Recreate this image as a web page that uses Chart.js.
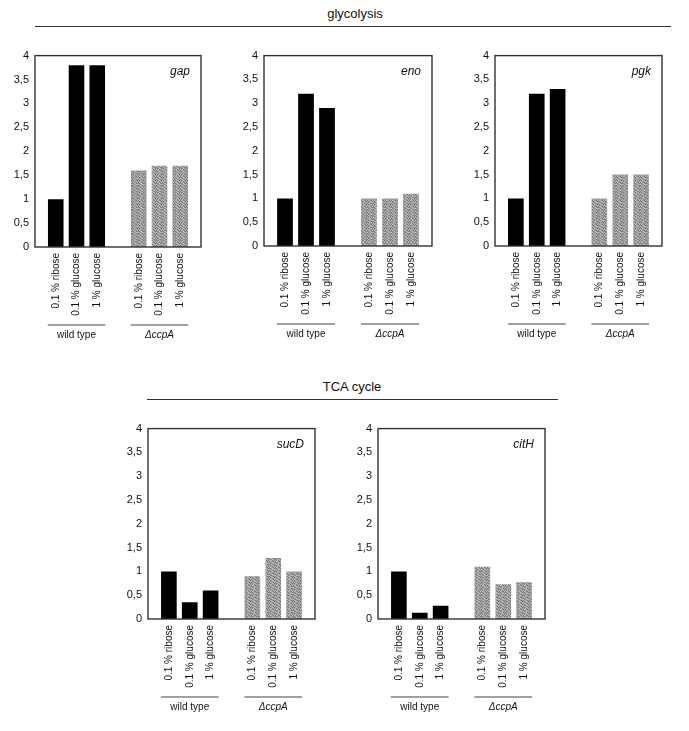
<!DOCTYPE html>
<html>
<head>
<meta charset="utf-8">
<script src="https://cdn.jsdelivr.net/npm/chart.js@4/dist/chart.umd.min.js"></script>
<style>
  html, body { margin: 0; padding: 0; background: #fff; }
  body { width: 689px; height: 731px; position: relative; overflow: hidden; font-family: "Liberation Sans", Arial, sans-serif; }
  .title { position: absolute; font-size: 13px; color: #111; transform: translate(-50%, -50%); white-space: nowrap; }
  .rule { position: absolute; height: 0; border-top: 1.3px solid #333; }
  .panel { position: absolute; }
</style>
</head>
<body>
<div class="title" style="left:355px; top:13px;">glycolysis</div>
<div class="rule" style="left:35px; top:26px; width:636px;"></div>
<div class="title" style="left:352px; top:386px;">TCA cycle</div>
<div class="rule" style="left:147px; top:399px; width:411px;"></div>

<script>
// ---- data ----
const conditions = ['0.1 % ribose', '0.1 % glucose', '1 % glucose'];
const groups = ['wild type', '\u0394ccpA'];
const yTicks = [0, 0.5, 1, 1.5, 2, 2.5, 3, 3.5, 4];

const genes = ['gap', 'eno', 'pgk', 'sucD', 'citH'];
const gapWT   = [1.0, 3.8, 3.8];
const gapCcpA = [1.6, 1.7, 1.7];
const enoWT   = [1.0, 3.2, 2.9];
const enoCcpA = [1.0, 1.0, 1.1];
const pgkWT   = [1.0, 3.2, 3.3];
const pgkCcpA = [1.0, 1.5, 1.5];
const sucDWT   = [1.0, 0.35, 0.6];
const sucDCcpA = [0.9, 1.28, 1.0];
const citHWT   = [1.0, 0.13, 0.28];
const citHCcpA = [1.1, 0.73, 0.77];

// ---- layout (plot area boxes) ----
const panels = [
  { gene: genes[0], wt: gapWT,  cc: gapCcpA,  L: 35,  T: 53,  W: 176, H: 194 },
  { gene: genes[1], wt: enoWT,  cc: enoCcpA,  L: 264, T: 53,  W: 178, H: 193 },
  { gene: genes[2], wt: pgkWT,  cc: pgkCcpA,  L: 495, T: 53,  W: 177, H: 193 },
  { gene: genes[3], wt: sucDWT, cc: sucDCcpA, L: 148, T: 426, W: 177, H: 193 },
  { gene: genes[4], wt: citHWT, cc: citHCcpA, L: 378, T: 426, W: 177, H: 193 }
];

const FONT = '"Liberation Sans", Arial, sans-serif';
const YW = 35, PADT = 10, PADR = 8, XH = 100;

// stippled grey fill (fixed dither tile)
function makePattern() {
  const tile = [
    '213021',
    '032103',
    '102310',
    '310232',
    '023101',
    '201320'
  ];
  const shades = ['#7a7a7a', '#939393', '#a9a9a9', '#bdbdbd'];
  const c = document.createElement('canvas');
  c.width = 6; c.height = 6;
  const g = c.getContext('2d');
  tile.forEach((row, yy) => {
    for (let xx = 0; xx < row.length; xx++) {
      g.fillStyle = shades[+row[xx]];
      g.fillRect(xx, yy, 1, 1);
    }
  });
  return g.createPattern(c, 'repeat');
}
const grey = makePattern();

const labels = ['', ...conditions, '', ...conditions, ''];

const decorPlugin = {
  id: 'decor',
  afterDatasetsDraw(chart, args, opts) {
    const ctx = chart.ctx, a = chart.chartArea, x = chart.scales.x;
    ctx.save();
    // frame
    ctx.strokeStyle = '#333';
    ctx.lineWidth = 1.4;
    ctx.strokeRect(a.left, a.top, a.right - a.left, a.bottom - a.top);
    // gene name
    ctx.fillStyle = '#111';
    ctx.font = 'italic 12px ' + FONT;
    ctx.textAlign = 'right';
    ctx.textBaseline = 'alphabetic';
    ctx.fillText(opts.gene, a.right - 11, a.top + 19);
    // group lines + labels
    const spans = [[1, 3], [5, 7]];
    spans.forEach((s, i) => {
      const x0 = x.getPixelForValue(s[0]) - 8;
      const x1 = x.getPixelForValue(s[1]) + 8;
      const ly = a.bottom + 78;
      ctx.strokeStyle = '#444';
      ctx.lineWidth = 1.2;
      ctx.beginPath(); ctx.moveTo(x0, ly); ctx.lineTo(x1, ly); ctx.stroke();
      ctx.font = (i === 1 ? 'italic ' : '') + '10px ' + FONT;
      ctx.textAlign = 'center';
      ctx.textBaseline = 'middle';
      ctx.fillStyle = '#111';
      ctx.fillText(groups[i], (x0 + x1) / 2, a.bottom + 88);
    });
    ctx.restore();
  }
};

panels.forEach(p => {
  const div = document.createElement('div');
  div.className = 'panel';
  const cw = YW + p.W + PADR, ch = PADT + p.H + XH;
  div.style.left = (p.L - YW) + 'px';
  div.style.top = (p.T - PADT) + 'px';
  div.style.width = cw + 'px';
  div.style.height = ch + 'px';
  const cv = document.createElement('canvas');
  cv.width = cw; cv.height = ch;
  div.appendChild(cv);
  document.body.appendChild(div);

  const wtData = [null, ...p.wt, null, null, null, null, null];
  const ccData = [null, null, null, null, null, ...p.cc, null];

  new Chart(cv, {
    type: 'bar',
    data: {
      labels: labels,
      datasets: [
        { label: groups[0], data: wtData, backgroundColor: '#000', grouped: false,
          barPercentage: 0.75, categoryPercentage: 1 },
        { label: groups[1], data: ccData, backgroundColor: grey, grouped: false,
          barPercentage: 0.75, categoryPercentage: 1 }
      ]
    },
    options: {
      responsive: false,
      animation: false,
      devicePixelRatio: 1,
      layout: { padding: { top: PADT, right: PADR, left: 0, bottom: 0 } },
      plugins: { legend: { display: false }, tooltip: { enabled: false }, decor: { gene: p.gene } },
      scales: {
        x: {
          type: 'category',
          offset: false,
          grid: { display: false, drawTicks: false },
          border: { display: false },
          ticks: {
            autoSkip: false, minRotation: 90, maxRotation: 90, padding: 6,
            color: '#111', font: { family: FONT, size: 10 }
          },
          afterFit(s) { s.height = XH; }
        },
        y: {
          min: 0, max: 4,
          grid: { display: false, drawTicks: false },
          border: { display: false },
          afterBuildTicks(s) { s.ticks = yTicks.map(v => ({ value: v })); },
          ticks: {
            padding: 6, color: '#111', font: { family: FONT, size: 11 },
            callback: v => String(v).replace('.', ',')
          },
          afterFit(s) { s.width = YW; }
        }
      }
    },
    plugins: [decorPlugin]
  });
});
</script>
</body>
</html>
